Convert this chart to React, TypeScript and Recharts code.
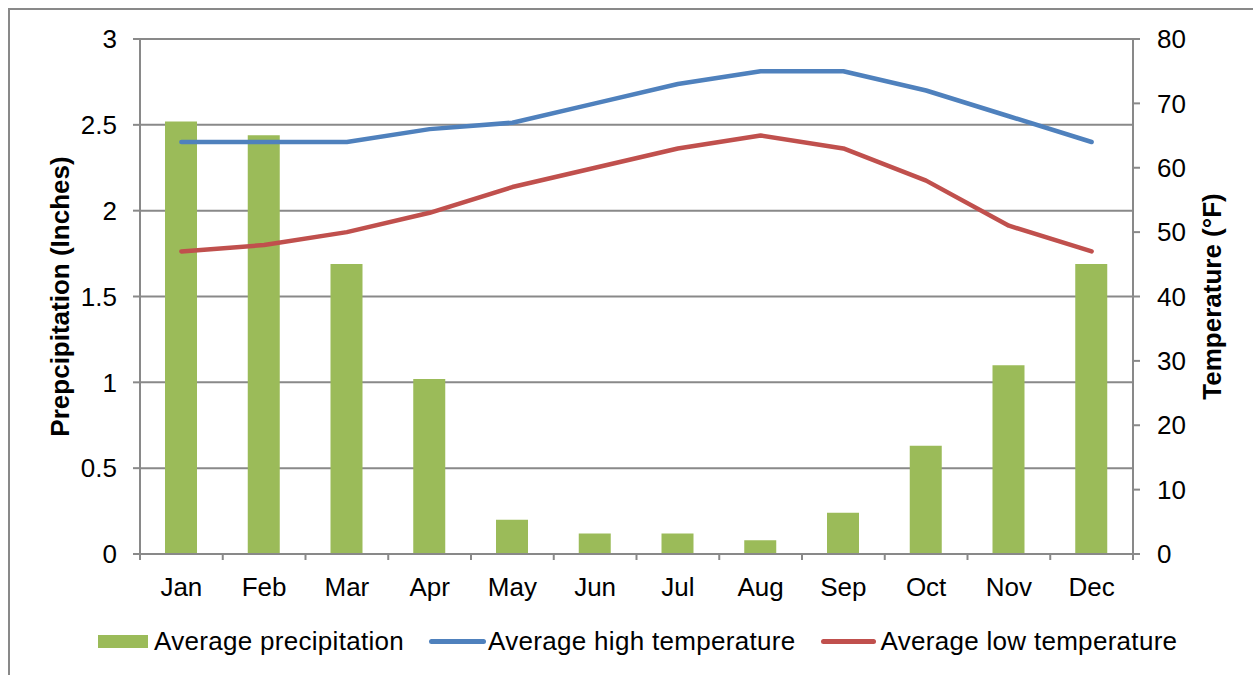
import React from 'react';
import {
  ComposedChart,
  Bar,
  Line,
  XAxis,
  YAxis,
  CartesianGrid,
  Legend,
  Label,
} from 'recharts';

const months = ['Jan', 'Feb', 'Mar', 'Apr', 'May', 'Jun', 'Jul', 'Aug', 'Sep', 'Oct', 'Nov', 'Dec'];
const precipitation = [2.52, 2.44, 1.69, 1.02, 0.2, 0.12, 0.12, 0.08, 0.24, 0.63, 1.1, 1.69];
const highTemp = [64, 64, 64, 66, 67, 70, 73, 75, 75, 72, 68, 64];
const lowTemp = [47, 48, 50, 53, 57, 60, 63, 65, 63, 58, 51, 47];

const precipTicks = [0, 0.5, 1, 1.5, 2, 2.5, 3];
const tempTicks = [0, 10, 20, 30, 40, 50, 60, 70, 80];

const GREEN = '#9BBB59';
const BLUE = '#4F81BD';
const RED = '#C0504D';
const GRID = '#898989';
const FONT = '"Liberation Sans", Arial, sans-serif';

const W = 1253;
const H = 675;
const MARGIN = { top: 39, right: 60, bottom: 120, left: 80 };
const Y_AXIS_W = 60;
const TICK_SIZE = 7;
const TICK_MARGIN = 17;

// half of one month's band on the category axis
const PLOT_W = W - MARGIN.left - MARGIN.right - 2 * Y_AXIS_W;
const HALF_BAND = PLOT_W / months.length / 2;

// month label plus the small tick marks on the category boundaries
const MonthTick = (props: any) => {
  const { x, y, payload, index, visibleTicksCount } = props;
  const cx = Number(x);
  const ty = Number(y);
  const top = ty - TICK_MARGIN - TICK_SIZE - 1;
  const isLast = index === visibleTicksCount - 1;
  return (
    <g className="month-tick">
      <path d={`M${cx - HALF_BAND},${top}V${top + TICK_SIZE}`} stroke={GRID} strokeWidth={2} fill="none" />
      {isLast && (
        <path d={`M${cx + HALF_BAND},${top}V${top + TICK_SIZE}`} stroke={GRID} strokeWidth={2} fill="none" />
      )}
      <text x={cx} y={ty} dy="0.71em" textAnchor="middle" fontSize={26} fill="#000">
        {payload.value}
      </text>
    </g>
  );
};

export default function App() {
  const data = months.map((m, i) => ({
    month: m,
    precip: precipitation[i],
    high: highTemp[i],
    low: lowTemp[i],
  }));

  const tickStyle = { fill: '#000', fontSize: 26 };

  const LegendContent = () => {
    const text = { fontSize: 26, letterSpacing: 0.3, color: '#000' };
    return (
      <div style={{ display: 'flex', alignItems: 'center', height: 30, paddingLeft: 98, fontFamily: FONT }}>
        <span style={{ width: 50, height: 13, background: GREEN, marginRight: 6 }} />
        <span style={text}>Average precipitation</span>
        <span style={{ width: 57, height: 5, borderRadius: 3, background: BLUE, marginLeft: 25, marginRight: 2 }} />
        <span style={text}>Average high temperature</span>
        <span style={{ width: 55, height: 5, borderRadius: 3, background: RED, marginLeft: 26, marginRight: 4 }} />
        <span style={text}>Average low temperature</span>
      </div>
    );
  };

  return (
    <div
      style={{
        position: 'fixed',
        left: 0,
        top: 0,
        width: W,
        height: H,
        overflow: 'hidden',
        background: '#fff',
        fontFamily: FONT,
      }}
    >
      {/* frame around the chart */}
      <div
        style={{
          position: 'absolute',
          left: 8,
          top: 8,
          width: W + 40,
          height: H + 40,
          border: `2px solid ${GRID}`,
        }}
      />
      <div style={{ position: 'absolute', left: 0, top: 0 }}>
        <ComposedChart width={W} height={H} data={data} margin={MARGIN}>
          <CartesianGrid yAxisId="precip" vertical={false} stroke={GRID} strokeWidth={2} />
          <XAxis
            dataKey="month"
            height={1}
            axisLine={{ stroke: GRID, strokeWidth: 2 }}
            tickLine={false}
            tickSize={TICK_SIZE}
            tickMargin={TICK_MARGIN}
            tick={(p: any) => <MonthTick {...p} />}
            interval={0}
          />
          <YAxis
            yAxisId="precip"
            orientation="left"
            width={Y_AXIS_W}
            domain={[0, 3]}
            ticks={precipTicks}
            axisLine={{ stroke: GRID, strokeWidth: 2 }}
            tickLine={{ stroke: GRID, strokeWidth: 2 }}
            tickSize={7}
            tickMargin={16}
            tick={tickStyle}
          >
            <Label
              content={({ viewBox }: any) => {
                const cx = viewBox.x - 20;
                const cy = viewBox.y + viewBox.height / 2;
                return (
                  <text
                    x={cx}
                    y={cy}
                    transform={`rotate(-90, ${cx}, ${cy})`}
                    textAnchor="middle"
                    dominantBaseline="central"
                    fontSize={26}
                    fontWeight="bold"
                    fill="#000"
                  >
                    Prepcipitation (Inches)
                  </text>
                );
              }}
            />
          </YAxis>
          <YAxis
            yAxisId="temp"
            orientation="right"
            width={Y_AXIS_W}
            domain={[0, 80]}
            ticks={tempTicks}
            axisLine={{ stroke: GRID, strokeWidth: 2 }}
            tickLine={{ stroke: GRID, strokeWidth: 2 }}
            tickSize={7}
            tickMargin={17}
            tick={tickStyle}
          >
            <Label
              content={({ viewBox }: any) => {
                const cx = viewBox.x + 79;
                const cy = viewBox.y + viewBox.height / 2;
                return (
                  <text
                    x={cx}
                    y={cy}
                    transform={`rotate(-90, ${cx}, ${cy})`}
                    textAnchor="middle"
                    dominantBaseline="central"
                    fontSize={26}
                    fontWeight="bold"
                    fill="#000"
                  >
                    Temperature (°F)
                  </text>
                );
              }}
            />
          </YAxis>
          <Bar
            yAxisId="precip"
            dataKey="precip"
            fill={GREEN}
            barSize={32}
            isAnimationActive={false}
          />
          <Line
            yAxisId="temp"
            type="linear"
            dataKey="high"
            stroke={BLUE}
            strokeWidth={4.5}
            strokeLinecap="round"
            strokeLinejoin="round"
            dot={false}
            activeDot={false}
            isAnimationActive={false}
          />
          <Line
            yAxisId="temp"
            type="linear"
            dataKey="low"
            stroke={RED}
            strokeWidth={4.5}
            strokeLinecap="round"
            strokeLinejoin="round"
            dot={false}
            activeDot={false}
            isAnimationActive={false}
          />
          <Legend
            layout="horizontal"
            verticalAlign="middle"
            align="center"
            wrapperStyle={{ top: 626, left: 0, width: W, height: 30 }}
            content={<LegendContent />}
          />
        </ComposedChart>
      </div>
    </div>
  );
}
